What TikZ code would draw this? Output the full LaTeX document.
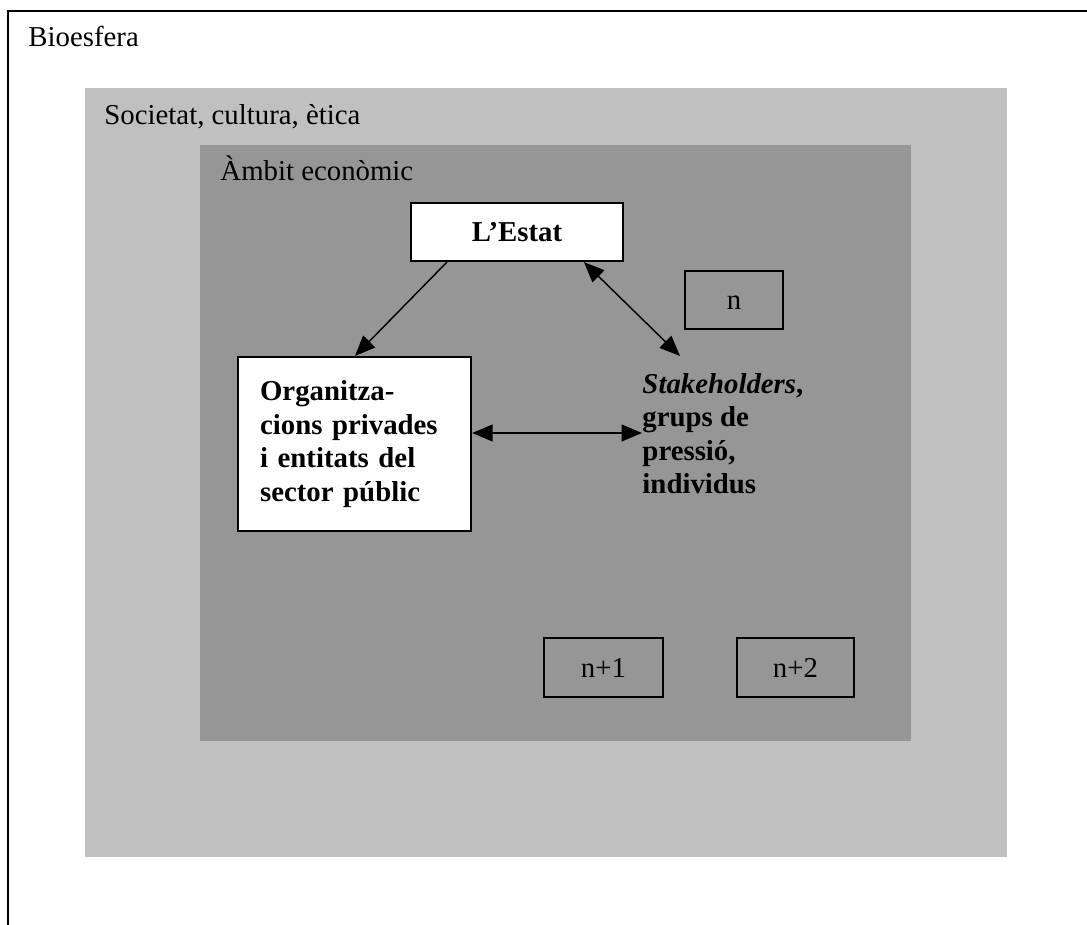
\documentclass[tikz,border=0pt]{standalone}
\usepackage{fontspec}
\setmainfont{Liberation Serif}
\usetikzlibrary{arrows.meta,calc}

\newlength\px
\setlength\px{0.41667pt}
\newcommand\sz{\fontsize{12}{13.9}\selectfont}
\definecolor{socgray}{HTML}{C0C0C0}
\definecolor{ecogray}{HTML}{969696}

\tikzset{
  label/.style={font=\sz,anchor=base west,inner sep=0pt},
  box/.style={draw,line width=0.9pt,font=\sz,inner sep=0pt},
  tag/.style={box,text height=8pt,text depth=0pt},
  link/.style={line width=0.6pt,-{Triangle[length=8.5pt,width=7pt]}},
  dlink/.style={line width=0.6pt,{Triangle[length=8.5pt,width=7pt]}-{Triangle[length=8.5pt,width=7pt]}},
}

\begin{document}
\begin{tikzpicture}[x=\px,y=-\px]
  \useasboundingbox (0,0) rectangle (1087,925);
  \fill[white] (0,0) rectangle (1087,925);
  \draw[line width=0.9pt] (1087,11) -- (8,11) -- (8,925);
  \fill[socgray] (85,88) rectangle (1007,857);
  \fill[ecogray] (200,145) rectangle (911,741);
  \node[label] at (28,47) (bio) {Bioesfera};
  \node[label] at (104,125) (soc) {Societat, cultura, ètica};
  \node[label] at (220,180) (eco) {Àmbit econòmic};
  \node[tag,fill=white,font=\sz\bfseries,minimum width=212\px,minimum height=58\px] at (517,232) (estat) {L’Estat};
  \node[tag,minimum width=98\px,minimum height=58\px] at (734,300) (n0) {n};
  \node[tag,minimum width=119\px,minimum height=59\px] at (603.5,667.5) (n1) {n+1};
  \node[tag,minimum width=117\px,minimum height=59\px] at (795.5,667.5) (n2) {n+2};
  \node[box,fill=white,font=\sz\bfseries,anchor=north west,minimum width=233\px,minimum height=174\px,text width=189\px,align=left] at (237,356) (org) {Organitza-\\cions privades\\i entitats del\\sector públic};
  \node[font=\sz\bfseries,anchor=north west,inner sep=0pt,align=left] at (642,373) (stake) {\textit{Stakeholders},\\grups de\\pressió,\\individus};
  \draw[link] ($(estat.south west)+(37,0)$) -- ($(org.north west)+(118,0)$);
  \draw[dlink] ($(estat.south west)+(174,0)$) -- ($(stake.north west)+(38,-17)$);
  \draw[dlink] ($(org.north east)+(0,77)$) -- ($(stake.north west)+(0,60)$);
\end{tikzpicture}
\end{document}
